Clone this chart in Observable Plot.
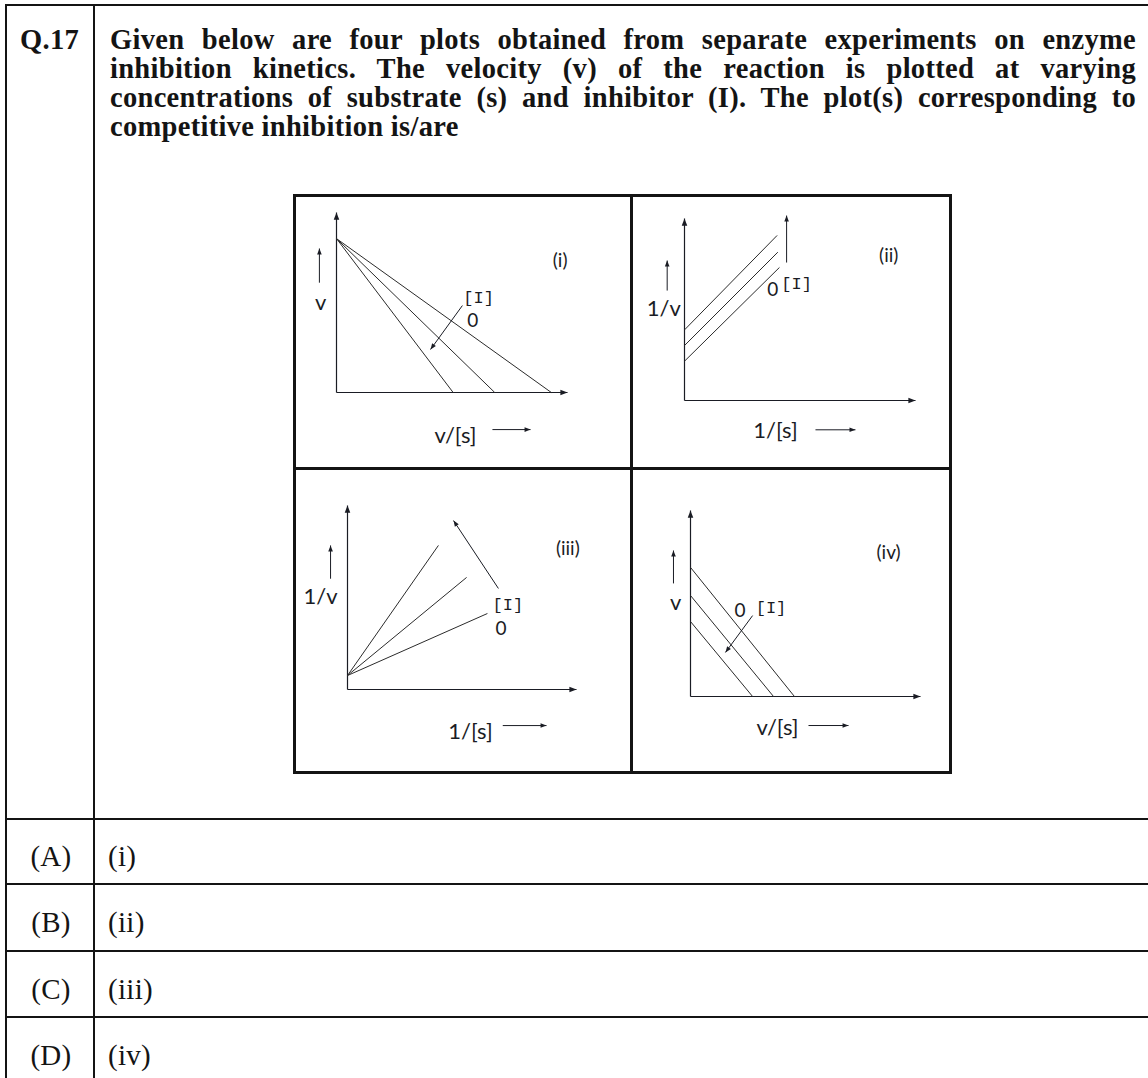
<!DOCTYPE html>
<html><head><meta charset="utf-8">
<script src="https://cdn.jsdelivr.net/npm/d3@7"></script>
<script src="https://cdn.jsdelivr.net/npm/@observablehq/plot@0.6"></script>
<style>
  body{margin:0;background:#fff;width:1148px;height:1078px;overflow:hidden;position:relative;color:#141414;font-family:"Liberation Serif","Times New Roman",serif}
  .hl{position:absolute;background:#141414}
  .q{position:absolute;left:110px;top:25px;width:1026px;font-weight:bold;font-size:28.5px;letter-spacing:0.3px;line-height:29px}
  .q div{text-align:justify;text-align-last:justify}
  .q div.last{text-align:left;text-align-last:left}
  .qn{position:absolute;left:20px;top:25px;font-weight:bold;font-size:28.5px;letter-spacing:0.3px;line-height:29px}
  .opt{position:absolute;font-size:29px;line-height:30px;letter-spacing:0.3px}
  .pan{position:absolute}
</style>
</head><body>
<script>
// ---------- text data ----------
const questionNo = "Q.17";
const questionLines = [
  "Given below are four plots obtained from separate experiments on enzyme",
  "inhibition kinetics. The velocity (v) of the reaction is plotted at varying",
  "concentrations of substrate (s) and inhibitor (I). The plot(s) corresponding to",
  "competitive inhibition is/are"
];
const optionLetters = ["(A)", "(B)", "(C)", "(D)"];
const optionTexts = ["(i)", "(ii)", "(iii)", "(iv)"];

// ---------- panel data (axis units, 0–10 along each axis) ----------
const panelNames = ["(i)", "(ii)", "(iii)", "(iv)"];
const xAxisTitles = ["v/[s]", "1/[s]", "1/[s]", "v/[s]"];
const yAxisTitles = ["v", "1/v", "1/v", "v"];
const inhibitorLabel = "[I]";
const zeroLabel = "0";

// (i) v vs v/[s]: common y-intercept, x-intercepts shrink with [I]
const startI = [[0, 8.55], [0, 8.55], [0, 8.55]];
const endI   = [[5.05, 0], [6.85, 0], [9.3, 0]];
// (ii) 1/v vs 1/[s]: parallel lines
const startII = [[0, 3.88], [0, 3.02], [0, 2.16]];
const endII   = [[4.01, 9.07], [4.04, 8.15], [4.11, 7.31]];
// (iii) 1/v vs 1/[s]: common y-intercept, slopes rise with [I]
const startIII = [[0, 0.76], [0, 0.76], [0, 0.76]];
const endIII   = [[3.97, 7.83], [5.2, 6.09], [6.11, 4.13]];
// (iv) v vs v/[s]: parallel lines
const startIV = [[0, 6.94], [0, 5.43], [0, 4.03]];
const endIV   = [[4.52, 0], [3.61, 0], [2.70, 0]];

// ---------- layout ----------
function line(l, t, w, h) {
  const d = document.createElement("div");
  d.className = "hl";
  Object.assign(d.style, {left: l + "px", top: t + "px", width: w + "px", height: h + "px"});
  document.body.appendChild(d);
}
// table
line(5, 4, 1143, 2);          // top
line(5, 4, 2, 1074);          // left
line(93, 4, 2, 1074);         // column divider
[818, 883, 950, 1016].forEach(y => line(5, y, 1143, 2));

// question
const qn = document.createElement("div");
qn.className = "qn"; qn.textContent = questionNo; document.body.appendChild(qn);
const q = document.createElement("div");
q.className = "q";
questionLines.forEach((t, i) => {
  const d = document.createElement("div");
  d.textContent = t;
  if (i === questionLines.length - 1) d.className = "last";
  q.appendChild(d);
});
document.body.appendChild(q);

// options
const optTops = [841, 907, 974, 1040];
optionLetters.forEach((L, i) => {
  const a = document.createElement("div");
  a.className = "opt"; a.textContent = L;
  Object.assign(a.style, {left: "8px", width: "86px", textAlign: "center", top: optTops[i] + "px"});
  document.body.appendChild(a);
  const b = document.createElement("div");
  b.className = "opt"; b.textContent = optionTexts[i];
  Object.assign(b.style, {left: "108px", top: optTops[i] + "px"});
  document.body.appendChild(b);
});

// ---------- panels ----------
const panels = [
  { box: [294, 195, 337, 274], margin: [17, 64, 77, 42], start: startI, end: endI,
    yl: [-0.69, 5.0], ya: [-0.74, 6.1, 8.0], xl: [5.15, -2.39], xa: [6.75, 8.4, -2.06],
    tag: [9.68, 7.33], inh: [6.15, 5.25], zero: [5.9, 3.95], arrow: [5.45, 4.83, 4.07, 2.39] },
  { box: [630, 196, 321, 272], margin: [22, 36, 68, 54], start: startII, end: endII,
    yl: [-0.9, 5.04], ya: [-0.75, 6.04, 7.69], xl: [3.94, -1.65], xa: [5.67, 7.4, -1.61],
    tag: [8.84, 7.97], inh: [4.85, 6.45], zero: [3.82, 6.1], arrow: [4.42, 7.58, 4.42, 10.16] },
  { box: [294, 469, 338, 304], margin: [36, 56, 84, 53], start: startIII, end: endIII,
    yl: [-1.18, 5.02], ya: [-0.74, 6.02, 7.83], xl: [5.37, -2.32], xa: [6.78, 8.69, -1.96],
    tag: [9.62, 7.65], inh: [7.0, 4.6], zero: [6.7, 3.3], arrow: [6.59, 5.49, 4.63, 9.18] },
  { box: [631, 467, 320, 306], margin: [43, 31, 77, 59], start: startIV, end: endIV,
    yl: [-0.65, 5.05], ya: [-0.74, 6.08, 7.85], xl: [3.78, -1.67], xa: [5.13, 6.87, -1.56],
    tag: [8.61, 7.74], inh: [3.5, 4.8], zero: [2.15, 4.6], arrow: [2.70, 4.35, 1.52, 2.37] }
];

const SANS = "Lato, 'Open Sans', sans-serif";
const MONO = "'Liberation Mono', 'DejaVu Sans Mono', monospace";
const INK = "#1a1c24";

function solidArrowheads(svg) {
  d3.select(svg).selectAll("marker").each(function () {
    const m = d3.select(this);
    const col = m.attr("stroke") || INK;
    m.attr("viewBox", "-9 -5 10 10").attr("markerWidth", 7).attr("markerHeight", 7)
     .attr("fill", col).attr("stroke", "none");
    m.selectAll("*").remove();
    m.append("path").attr("d", "M-8.5,-3.3L0,0L-8.5,3.3Z");
  });
}

panels.forEach((p, k) => {
  const rows = p.start.map((s, i) => ({x1: s[0], y1: s[1], x2: p.end[i][0], y2: p.end[i][1]}));
  const axes = [{x1: 0, y1: 0, x2: 10, y2: 0}, {x1: 0, y1: 0, x2: 0, y2: 10}];
  const arrows = [
    {x1: p.ya[0], y1: p.ya[1], x2: p.ya[0], y2: p.ya[2]},
    {x1: p.xa[0], y1: p.xa[2], x2: p.xa[1], y2: p.xa[2]},
    {x1: p.arrow[0], y1: p.arrow[1], x2: p.arrow[2], y2: p.arrow[3]}
  ];
  const [mt, mr, mb, ml] = p.margin;
  const svg = Plot.plot({
    width: p.box[2], height: p.box[3],
    marginTop: mt, marginRight: mr, marginBottom: mb, marginLeft: ml,
    x: {domain: [0, 10], axis: null},
    y: {domain: [0, 10], axis: null},
    style: {background: "transparent", overflow: "visible", color: INK},
    marks: [
      Plot.link(axes, {x1: "x1", y1: "y1", x2: "x2", y2: "y2", stroke: INK, strokeWidth: 1.2, markerEnd: "arrow"}),
      Plot.link(rows, {x1: "x1", y1: "y1", x2: "x2", y2: "y2", stroke: "#2b2b2b", strokeWidth: 1}),
      Plot.link(arrows, {x1: "x1", y1: "y1", x2: "x2", y2: "y2", stroke: INK, strokeWidth: 1, markerEnd: "arrow"}),
      Plot.text([{x: p.yl[0], y: p.yl[1], t: yAxisTitles[k]}, {x: p.xl[0], y: p.xl[1], t: xAxisTitles[k]}],
        {x: "x", y: "y", text: "t", fontSize: 22, fontFamily: SANS, fill: INK}),
      Plot.text([{x: p.tag[0], y: p.tag[1], t: panelNames[k]}],
        {x: "x", y: "y", text: "t", fontSize: 19, fontFamily: SANS, fill: INK}),
      Plot.text([{x: p.zero[0], y: p.zero[1], t: zeroLabel}],
        {x: "x", y: "y", text: "t", fontSize: 19, fontFamily: SANS, fill: INK}),
      Plot.text([{x: p.inh[0], y: p.inh[1], t: inhibitorLabel}],
        {x: "x", y: "y", text: "t", fontSize: 17, fontFamily: MONO, fill: INK})
    ]
  });
  solidArrowheads(svg);
  const wrap = document.createElement("div");
  wrap.className = "pan";
  Object.assign(wrap.style, {left: p.box[0] + "px", top: p.box[1] + "px", width: p.box[2] + "px", height: p.box[3] + "px"});
  wrap.appendChild(svg);
  document.body.appendChild(wrap);
});

// panel frame lines
line(293, 194, 659, 3);   // top
line(293, 771, 659, 3);   // bottom
line(293, 194, 3, 580);   // left
line(949, 194, 3, 580);   // right
line(630, 194, 3, 580);   // middle vertical
line(293, 467, 659, 3);   // middle horizontal
</script>
</body></html>
